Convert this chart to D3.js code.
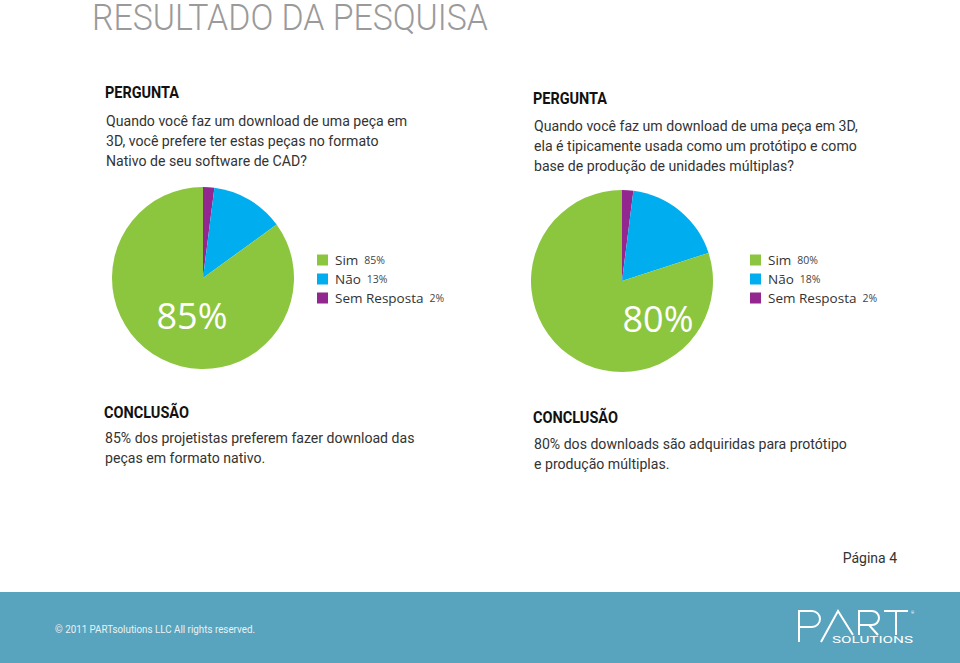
<!DOCTYPE html>
<html>
<head>
<meta charset="utf-8">
<script src="https://cdn.jsdelivr.net/npm/d3@7"></script>
<style>
  html, body { margin: 0; padding: 0; background: #fff; }
  svg { display: block; }
</style>
</head>
<body>
<script>
// data
const categories = ['Sim', 'Não', 'Sem Resposta'];
const valuesNativo = [85, 13, 2];
const valuesPrototipo = [80, 18, 2];
const colors = ['#8cc63f', '#00aeef', '#92278f'];

const title = 'RESULTADO DA PESQUISA';
const question1 = [
  'Quando você faz um download de uma peça em',
  '3D, você prefere ter estas peças no formato',
  'Nativo de seu software de CAD?'
];
const question2 = [
  'Quando você faz um download de uma peça em 3D,',
  'ela é tipicamente usada como um protótipo e como',
  'base de produção de unidades múltiplas?'
];
const conclusion1 = [
  '85% dos projetistas preferem fazer download das',
  'peças em formato nativo.'
];
const conclusion2 = [
  '80% dos downloads são adquiridas para protótipo',
  'e produção múltiplas.'
];
const pageLabel = 'Página 4';
const copyright = '© 2011 PARTsolutions LLC  All rights reserved.';

const w = 960;
const h = 663;

const svg = d3.select('body')
  .append('svg')
    .attr('width', w)
    .attr('height', h);

// title
svg.append('text')
    .attr('x', 92)
    .attr('y', 30)
    .attr('font-family', 'Roboto')
    .attr('font-weight', 300)
    .attr('font-size', 36)
    .attr('fill', '#9a9a9a')
    .attr('textLength', 396)
    .attr('lengthAdjust', 'spacingAndGlyphs')
    .text(title);

// text blocks
function block(x, y, heading, lines, bodyY) {
  svg.append('text')
      .attr('x', x)
      .attr('y', y)
      .attr('font-family', 'Roboto')
      .attr('font-weight', 700)
      .attr('font-size', 16)
      .attr('fill', '#111')
      .attr('textLength', heading === 'PERGUNTA' ? 74 : 85)
      .attr('lengthAdjust', 'spacingAndGlyphs')
      .text(heading);

  svg.selectAll(null)
    .data(lines)
    .enter()
    .append('text')
      .attr('x', x + 1)
      .attr('y', (d, i) => bodyY + i * 20)
      .attr('font-family', 'Roboto')
      .attr('font-size', 14.1)
      .attr('fill', '#333')
      .text(d => d);
}

block(105, 98, 'PERGUNTA', question1, 126);
block(533, 104, 'PERGUNTA', question2, 131);
block(104, 418, 'CONCLUSÃO', conclusion1, 443);
block(533, 423, 'CONCLUSÃO', conclusion2, 449);

// pies
const r = 91;
const pie = d3.pie()
  .sort(null)
  .value(d => d.value);
const arc = d3.arc().innerRadius(0).outerRadius(r);

function drawPie(cx, cy, values, labelDx, legendX) {
  // clockwise from top: Sem Resposta, Não, Sim
  const rows = categories.map((c, i) => ({ cat: c, value: values[i], color: colors[i] }));
  const ordered = rows.slice().reverse();

  const g = svg.append('g')
      .attr('transform', `translate(${cx}, ${cy})`);

  g.selectAll('path')
    .data(pie(ordered))
    .enter()
    .append('path')
      .attr('d', arc)
      .attr('fill', d => d.data.color);

  g.append('text')
      .attr('x', labelDx)
      .attr('y', 51)
      .attr('text-anchor', 'middle')
      .attr('font-family', 'Open Sans')
      .attr('font-size', 36)
      .attr('fill', '#fff')
      .text(values[0] + '%');

  const y = d3.scalePoint()
    .domain(categories)
    .range([260, 298]);

  const leg = svg.append('g');
  const item = leg.selectAll('g')
    .data(rows)
    .enter()
    .append('g')
      .attr('transform', d => `translate(${legendX}, ${y(d.cat)})`);

  item.append('rect')
      .attr('x', 0)
      .attr('y', -5.5)
      .attr('width', 11)
      .attr('height', 11)
      .attr('fill', d => d.color);

  item.append('text')
      .attr('class', 'lab')
      .attr('x', 18)
      .attr('y', 5)
      .attr('font-family', 'Open Sans')
      .attr('font-size', 13.5)
      .attr('fill', '#333')
      .text(d => d.cat);

  item.append('text')
      .attr('x', function () {
        const lab = d3.select(this.parentNode).select('.lab').node();
        return 18 + lab.getComputedTextLength() + 6;
      })
      .attr('y', 4)
      .attr('font-family', 'Open Sans')
      .attr('font-size', 10.5)
      .attr('fill', '#444')
      .text(d => d.value + '%');
}

drawPie(203, 278, valuesNativo, -11, 317);
drawPie(622, 281, valuesPrototipo, 36, 750);

// page number
svg.append('text')
    .attr('x', 897)
    .attr('y', 563)
    .attr('text-anchor', 'end')
    .attr('font-family', 'Roboto')
    .attr('font-size', 14)
    .attr('fill', '#333')
    .text(pageLabel);

// footer band
svg.append('rect')
    .attr('x', 0)
    .attr('y', 592)
    .attr('width', w)
    .attr('height', h - 592)
    .attr('fill', '#58a3bd');

svg.append('text')
    .attr('x', 55)
    .attr('y', 633)
    .attr('font-family', 'Roboto')
    .attr('font-size', 10.5)
    .attr('fill', '#e8f2f6')
    .attr('textLength', 200)
    .attr('lengthAdjust', 'spacingAndGlyphs')
    .text(copyright);

// logo
const logo = svg.append('g')
    .attr('fill', 'none')
    .attr('stroke', '#fff')
    .attr('stroke-width', 2);

// P with long stem
logo.append('path')
    .attr('d', 'M799,642 V611 H812 A8,8 0 0 1 812,627 H799');
// A as /\
logo.append('path')
    .attr('d', 'M821,642 L838,611 L853,635');
// R
logo.append('path')
    .attr('d', 'M859,635 V611 H872 A7,7 0 0 1 872,625 H859 M869,625 L878,635');
// T
logo.append('path')
    .attr('d', 'M884,611 H908 M896,611 V635');

svg.append('text')
    .attr('x', 832)
    .attr('y', 643)
    .attr('font-family', 'Roboto')
    .attr('font-size', 9)
    .attr('fill', '#fff')
    .attr('textLength', 81)
    .attr('lengthAdjust', 'spacingAndGlyphs')
    .text('SOLUTIONS');

svg.append('text')
    .attr('x', 911)
    .attr('y', 614)
    .attr('font-family', 'Roboto')
    .attr('font-size', 4)
    .attr('fill', '#fff')
    .text('®');
</script>
</body>
</html>
